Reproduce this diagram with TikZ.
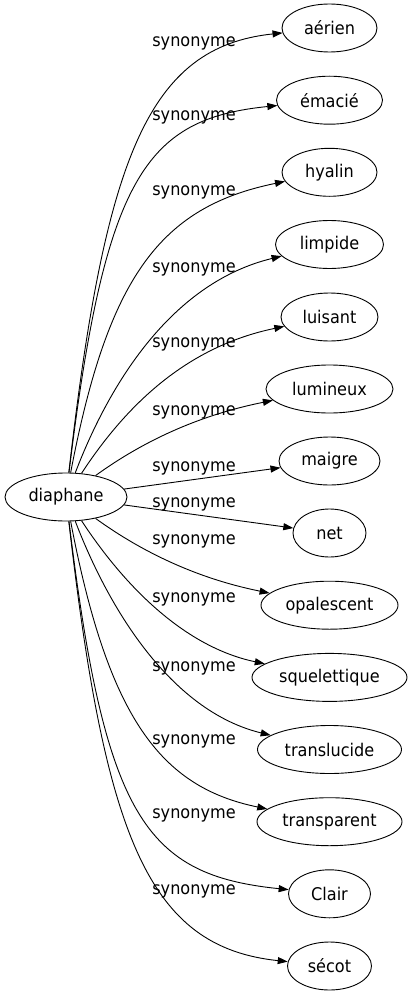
\documentclass[tikz,border=0pt]{standalone}
\usepackage{fontspec}
\setmainfont{DejaVu Sans}[FakeStretch=0.92]
\usetikzlibrary{shapes.geometric,arrows.meta}
\begin{document}
\begin{tikzpicture}[x=1pt, y=-1pt,
    font=\fontsize{17.5}{21}\selectfont,
    mot/.style={draw, ellipse, inner sep=0pt, minimum height=48pt, line width=0.9pt},
    syn/.style={-{Triangle[length=10pt,width=7pt]}, line width=0.9pt},
    etiq/.style={anchor=base, inner sep=0pt}]

    % 画布大小
    \useasboundingbox (0,0) rectangle (412,995);

    % 中心词
    \node[mot, minimum width=122pt] (diaphane) at (66,497) {diaphane};

    % 右侧的同义词
    \node[mot, minimum width=95pt]  (aerien)       at (329.5,28)    {aérien};
    \node[mot, minimum width=106pt] (emacie)       at (329.5,100.2) {émacié};
    \node[mot, minimum width=95pt]  (hyalin)       at (329.5,172.3) {hyalin};
    \node[mot, minimum width=108pt] (limpide)      at (329.5,244.5) {limpide};
    \node[mot, minimum width=97pt]  (luisant)      at (329.5,317)   {luisant};
    \node[mot, minimum width=127pt] (lumineux)     at (329.5,389)   {lumineux};
    \node[mot, minimum width=101pt] (maigre)       at (329.5,461)   {maigre};
    \node[mot, minimum width=73pt]  (net)          at (329.5,533)   {net};
    \node[mot, minimum width=137pt] (opalescent)   at (329.5,605.2) {opalescent};
    \node[mot, minimum width=155pt] (squelettique) at (329.5,677.4) {squelettique};
    \node[mot, minimum width=144pt] (translucide)  at (329.5,749.5) {translucide};
    \node[mot, minimum width=145pt] (transparent)  at (329.5,821.7) {transparent};
    \node[mot, minimum width=82pt]  (clair)        at (329.5,893.8) {Clair};
    \node[mot, minimum width=84pt]  (secot)        at (329.5,966)   {sécot};

    % 连线
    \draw[syn] (diaphane) .. controls (105,157) and (148,47) .. (aerien);
    \draw[syn] (diaphane) .. controls (105,177) and (145,119) .. (emacie);
    \draw[syn] (diaphane) .. controls (108,277) and (160,207) .. (hyalin);
    \draw[syn] (diaphane) .. controls (112,377) and (175,282) .. (limpide);
    \draw[syn] (diaphane) .. controls (125,407) and (185,347) .. (luisant);
    \draw[syn] (diaphane) .. controls (135,447) and (190,417) .. (lumineux);
    \draw[syn] (diaphane) -- (maigre);
    \draw[syn] (diaphane) -- (net);
    \draw[syn] (diaphane) .. controls (135,547) and (190,577) .. (opalescent);
    \draw[syn] (diaphane) .. controls (125,587) and (185,647) .. (squelettique);
    \draw[syn] (diaphane) .. controls (112,617) and (175,712) .. (translucide);
    \draw[syn] (diaphane) .. controls (108,717) and (160,787) .. (transparent);
    \draw[syn] (diaphane) .. controls (105,817) and (145,875) .. (clair);
    \draw[syn] (diaphane) .. controls (105,837) and (148,947) .. (secot);

    % 标签
    \node[etiq] (s1)  at (194,47)  {synonyme};
    \node[etiq] (s2)  at (194,121) {synonyme};
    \node[etiq] (s3)  at (194,195) {synonyme};
    \node[etiq] (s4)  at (194,272) {synonyme};
    \node[etiq] (s5)  at (194,347) {synonyme};
    \node[etiq] (s6)  at (194,415) {synonyme};
    \node[etiq] (s7)  at (194,471) {synonyme};
    \node[etiq] (s8)  at (194,507) {synonyme};
    \node[etiq] (s9)  at (194,544) {synonyme};
    \node[etiq] (s10) at (194,602) {synonyme};
    \node[etiq] (s11) at (194,671) {synonyme};
    \node[etiq] (s12) at (194,744) {synonyme};
    \node[etiq] (s13) at (194,818) {synonyme};
    \node[etiq] (s14) at (194,894) {synonyme};

\end{tikzpicture}
\end{document}
